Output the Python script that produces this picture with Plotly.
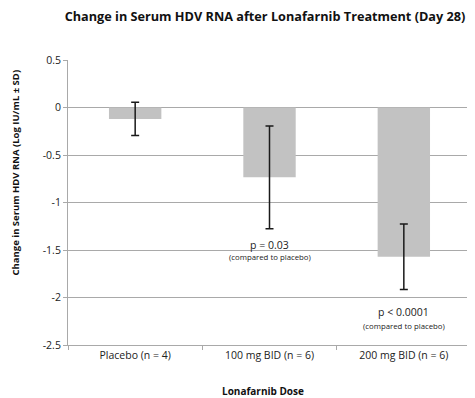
import plotly.graph_objects as go

categories = ["Placebo (n = 4)", "100 mg BID (n = 6)", "200 mg BID (n = 6)"]
mean_change = [-0.12, -0.735, -1.57]
sd_change = [0.175, 0.54, 0.345]
y_ticks = [0.5, 0, -0.5, -1, -1.5, -2, -2.5]
y_tick_labels = ["0.5", "0", "-0.5", "-1", "-1.5", "-2", "-2.5"]
p_categories = ["100 mg BID (n = 6)", "200 mg BID (n = 6)"]
p_labels = ["p = 0.03", "p < 0.0001"]
p_label_y = [-1.447, -2.153]
p_sub = ["(compared to placebo)", "(compared to placebo)"]
p_sub_y = [-1.574, -2.30]

FONT = "Open Sans"
GRID = "#a9a9a9"

fig = go.Figure()
fig.add_trace(go.Bar(
    x=categories, y=mean_change, width=0.39,
    marker=dict(color="#c2c2c2", line=dict(width=0)),
    error_y=dict(type="data", array=sd_change, visible=True,
                 color="#1a1a1a", thickness=1.5, width=4),
))

for c, t, yv, s, sy in zip(p_categories, p_labels, p_label_y, p_sub, p_sub_y):
    fig.add_annotation(x=c, y=yv, text=t, showarrow=False, yanchor="middle",
                       font=dict(family=FONT, size=10.5, color="#222"))
    fig.add_annotation(x=c, y=sy, text=s, showarrow=False, yanchor="middle",
                       font=dict(family=FONT, size=7.8, color="#222"))

# axis titles placed as annotations for exact positioning
fig.add_annotation(xref="paper", yref="paper", x=0, y=0.5, xshift=-53, yshift=30,
                   text="<b>Change in Serum HDV RNA (Log IU/mL ± SD)</b>", textangle=-90,
                   showarrow=False, xanchor="center", yanchor="middle",
                   font=dict(family=FONT, size=9.5, color="#111"))
fig.add_annotation(xref="paper", yref="paper", x=0.5, y=0, xshift=-7, yshift=-46,
                   text="<b>Lonafarnib Dose</b>",
                   showarrow=False, xanchor="center", yanchor="middle",
                   font=dict(family=FONT, size=10, color="#111"))

fig.update_layout(
    width=467, height=398,
    margin=dict(l=60, r=4, t=52, b=61, autoexpand=False),
    paper_bgcolor="white", plot_bgcolor="white",
    showlegend=False,
    title=dict(text="<b>Change in Serum HDV RNA after Lonafarnib Treatment (Day 28)</b>",
               x=257 / 467, xanchor="center", y=1 - 9 / 398, yanchor="middle", automargin=False,
               font=dict(family=FONT, size=12.7, color="#111")),
    font=dict(family=FONT, color="#222"),
)
fig.update_yaxes(
    range=[-2.5, 0.5], tickvals=y_ticks, ticktext=y_tick_labels, automargin=False,
    showgrid=True, gridcolor=GRID, gridwidth=1,
    zeroline=True, zerolinecolor=GRID, zerolinewidth=1,
    showline=True, linecolor=GRID, linewidth=1,
    ticks="outside", ticklen=4, tickcolor=GRID,
    tickfont=dict(family=FONT, size=10.5, color="#222"),
)
fig.update_xaxes(
    showline=True, linecolor=GRID, linewidth=1, automargin=False,
    ticks="outside", ticklen=4, tickcolor=GRID, tickson="boundaries",
    tickfont=dict(family=FONT, size=10.5, color="#222"),
)
fig.write_html("out.html")
